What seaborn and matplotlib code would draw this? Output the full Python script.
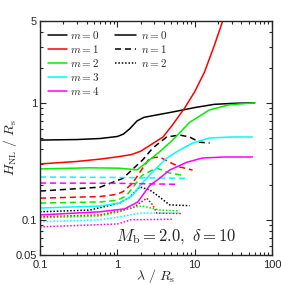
import matplotlib
matplotlib.use("Agg")
import matplotlib.pyplot as plt
import pandas as pd
import seaborn as sns
from matplotlib.lines import Line2D
from matplotlib.ticker import FixedLocator, FixedFormatter, LogLocator, NullFormatter

# ------------------------------------------
# Data (lambda / R_s , H_NL / R_s)
# ------------------------------------------

# n = 0 (solid)
lam_m0_n0 = [0.1, 0.3, 0.6, 1.0, 1.2, 1.45, 1.8, 2.2, 3.0, 5.0, 10, 18, 33, 60]
H_m0_n0 = [0.48, 0.485, 0.495, 0.515, 0.54, 0.60, 0.70, 0.75, 0.78, 0.83, 0.91, 0.97, 0.99, 1.0]

lam_m1_n0 = [0.1, 0.3, 0.6, 1.0, 1.5, 2.0, 2.9, 3.9, 5.2, 7.4, 10, 13.4, 18, 23.5]
H_m1_n0 = [0.30, 0.315, 0.33, 0.345, 0.36, 0.385, 0.45, 0.51, 0.65, 0.90, 1.24, 1.83, 3.1, 5.2]

lam_m2_n0 = [0.1, 0.44, 1.07, 1.5, 1.8, 2.4, 3.5, 5.2, 8.6, 15.6, 28, 60]
H_m2_n0 = [0.272, 0.278, 0.276, 0.27, 0.267, 0.31, 0.38, 0.48, 0.68, 0.87, 0.96, 1.0]

lam_m3_n0 = [0.1, 0.6, 1.07, 1.54, 1.95, 2.6, 4.35, 6.4, 9.4, 15.6, 30, 56]
H_m3_n0 = [0.126, 0.131, 0.139, 0.160, 0.195, 0.24, 0.337, 0.395, 0.453, 0.50, 0.51, 0.51]

lam_m4_n0 = [0.1, 0.6, 1.25, 1.84, 2.6, 3.5, 4.75, 7.9, 12.6, 24, 56]
H_m4_n0 = [0.110, 0.117, 0.124, 0.142, 0.195, 0.226, 0.266, 0.31, 0.337, 0.344, 0.344]

# n = 1 (dashed)
lam_m0_n1 = [0.1, 0.6, 1.18, 2.13, 2.87, 4.35, 6.4, 8.6, 11.6, 15.6]
H_m0_n1 = [0.176, 0.19, 0.226, 0.325, 0.41, 0.51, 0.53, 0.51, 0.46, 0.453]

lam_m1_n1 = [0.1, 0.6, 1.0, 1.2, 1.58, 2.13, 2.62, 3.53, 4.75, 6.4, 9.4]
H_m1_n1 = [0.153, 0.158, 0.165, 0.175, 0.206, 0.277, 0.337, 0.344, 0.31, 0.283, 0.266]

lam_m2_n1 = [0.1, 0.6, 1.0, 1.3, 1.6, 2.1, 3.2, 4.75, 7.0]
H_m2_n1 = [0.139, 0.142, 0.147, 0.16, 0.19, 0.24, 0.277, 0.251, 0.24]

lam_m3_n1 = [0.1, 1.0, 3.0, 7.9]
H_m3_n1 = [0.232, 0.23, 0.228, 0.226]

lam_m4_n1 = [0.1, 1.0, 5.8]
H_m4_n1 = [0.206, 0.205, 0.201]

# n = 2 (dotted)
lam_m0_n2 = [0.1, 0.44, 1.07, 1.45, 1.95, 2.62, 3.53, 4.75, 8.6]
H_m0_n2 = [0.117, 0.121, 0.139, 0.156, 0.191, 0.18, 0.156, 0.134, 0.132]

lam_m1_n2 = [0.1, 0.6, 1.58, 2.4, 2.87, 3.24, 7.0]
H_m1_n2 = [0.106, 0.110, 0.126, 0.153, 0.134, 0.114, 0.113]

lam_m2_n2 = [0.1, 0.6, 1.07, 1.58, 2.13, 3.53, 6.4]
H_m2_n2 = [0.104, 0.108, 0.117, 0.128, 0.131, 0.121, 0.119]

lam_m3_n2 = [0.1, 0.6, 1.07, 1.95, 6.4]
H_m3_n2 = [0.096, 0.10, 0.106, 0.114, 0.114]

lam_m4_n2 = [0.1, 1.0, 1.5, 5.2]
H_m4_n2 = [0.087, 0.092, 0.10, 0.101]

m_values = [0, 1, 2, 3, 4]
n_values = [0, 1, 2]
x_ticks = [0.1, 1, 10, 100]
x_labels = ["0.1", "1", "10", "100"]
y_ticks = [0.05, 0.1, 1, 5]
y_labels = ["0.05", "0.1", "1", "5"]

series = {
    (0, 0): (lam_m0_n0, H_m0_n0), (1, 0): (lam_m1_n0, H_m1_n0),
    (2, 0): (lam_m2_n0, H_m2_n0), (3, 0): (lam_m3_n0, H_m3_n0),
    (4, 0): (lam_m4_n0, H_m4_n0),
    (0, 1): (lam_m0_n1, H_m0_n1), (1, 1): (lam_m1_n1, H_m1_n1),
    (2, 1): (lam_m2_n1, H_m2_n1), (3, 1): (lam_m3_n1, H_m3_n1),
    (4, 1): (lam_m4_n1, H_m4_n1),
    (0, 2): (lam_m0_n2, H_m0_n2), (1, 2): (lam_m1_n2, H_m1_n2),
    (2, 2): (lam_m2_n2, H_m2_n2), (3, 2): (lam_m3_n2, H_m3_n2),
    (4, 2): (lam_m4_n2, H_m4_n2),
}

rows = []
for (m, n), (lam, H) in series.items():
    for x, y in zip(lam, H):
        rows.append({"lam": x, "H": y, "m": m, "n": n})
df = pd.DataFrame(rows)

# ------------------------------------------
# Style
# ------------------------------------------
sns.set_style("ticks")
plt.rcParams["font.family"] = ["Liberation Sans", "DejaVu Sans"]
plt.rcParams["mathtext.fontset"] = "cm"

colors = {0: "black", 1: "#ff0000", 2: "#00ee00", 3: "#00ffff", 4: "#ff00ff"}
dashes = {0: "", 1: (4, 2.5), 2: (1, 1.2)}

fig = plt.figure(figsize=(2.81, 2.85), dpi=100)
ax = fig.add_axes([0.1423, 0.1053, 0.8256, 0.821])

sns.lineplot(
    data=df, x="lam", y="H", hue="m", style="n",
    palette=colors, dashes=dashes, estimator=None, errorbar=None,
    linewidth=1.1, legend=False, ax=ax
)

ax.set_xscale("log")
ax.set_yscale("log")
ax.set_xlim(0.1, 100)
ax.set_ylim(0.05, 5)

ax.xaxis.set_major_locator(FixedLocator(x_ticks))
ax.xaxis.set_major_formatter(FixedFormatter(x_labels))
ax.yaxis.set_major_locator(FixedLocator(y_ticks))
ax.yaxis.set_major_formatter(FixedFormatter(y_labels))
ax.xaxis.set_minor_locator(LogLocator(base=10, subs=range(2, 10)))
ax.yaxis.set_minor_locator(LogLocator(base=10, subs=range(2, 10)))
ax.xaxis.set_minor_formatter(NullFormatter())
ax.yaxis.set_minor_formatter(NullFormatter())

ax.tick_params(which="both", direction="in", top=True, right=True,
               labelsize=8, width=0.8, pad=2)
ax.tick_params(axis="x", which="major", pad=3.5)
ax.tick_params(which="major", length=4)
ax.tick_params(which="minor", length=2)
for s in ax.spines.values():
    s.set_linewidth(1.0)

ax.set_xlabel(r"$\lambda\ /\ R_{\rm s}$", fontsize=10, labelpad=-2)
ax.set_ylabel(r"$H_{\rm NL}\ /\ R_{\rm s}$", fontsize=10)
ax.yaxis.set_label_coords(-0.09, 0.46)

# Legends: m (colours) and n (line styles)
m_handles = [Line2D([], [], color=colors[m], lw=1.1) for m in m_values]
m_labels = [rf"$m = {m}$" for m in m_values]
leg1 = ax.legend(m_handles, m_labels, loc="upper left",
                 bbox_to_anchor=(0.035, 0.965), frameon=False, fontsize=8,
                 handlelength=1.7, handletextpad=0.25, labelspacing=0.17,
                 borderpad=0, borderaxespad=0)
ax.add_artist(leg1)

n_handles = [Line2D([], [], color="black", lw=1.1, dashes=dashes[n]) for n in n_values]
n_labels = [rf"$n = {n}$" for n in n_values]
ax.legend(n_handles, n_labels, loc="upper left",
          bbox_to_anchor=(0.325, 0.965), frameon=False, fontsize=8,
          handlelength=1.9, handletextpad=0.4, labelspacing=0.17,
          borderpad=0, borderaxespad=0)

ax.text(0.585, 0.077, r"$M_{\rm b} = 2.0,\ \delta = 10$", transform=ax.transAxes,
        ha="center", va="center", fontsize=12)

plt.savefig("out.png", dpi=100)
